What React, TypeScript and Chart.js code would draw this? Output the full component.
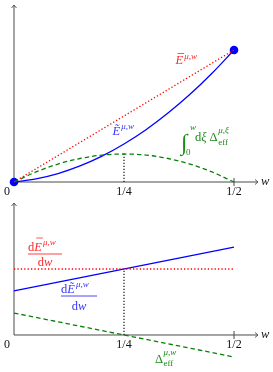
import { useEffect, useRef } from "react";
import { Chart, registerables } from "chart.js";

Chart.register(...registerables);

// ---- data ----
const wSamples = [0, 0.05, 0.1, 0.15, 0.2, 0.25, 0.3, 0.35, 0.4, 0.45, 0.5];
const eTildeValues = [0, 0.024, 0.064, 0.122, 0.196, 0.288, 0.396, 0.522, 0.664, 0.824, 1.0];
const intDeltaValues = [0, 0.076, 0.136, 0.178, 0.204, 0.212, 0.204, 0.178, 0.136, 0.076, 0];
const eBarW = [0, 0.5];
const eBarValues = [0, 1];
const endpointW = [0, 0.5];
const endpointValues = [0, 1];

const lineW = [0, 0.5];
const dEbarValues = [1, 1];
const dEtildeValues = [0.667, 1.333];
const deltaEffValues = [0.333, -0.333];

const tickValues = [0, 0.25, 0.5];
const tickLabels = ["0", "1/4", "1/2"];
const markW = 0.25;

// ---- styles ----
const FONT = '"Liberation Serif", "DejaVu Serif", serif';
const AXIS = "#4a4a4a";
const RED = "#ff0000";
const BLUE = "#0000ff";
const GREEN = "#0a800a";
const RED_T = "#ff2a2a";
const BLUE_T = "#3535ff";
const GREEN_T = "#1a8a1a";
const MAIN = 12.5;
const SCRIPT = 9;

function pts(xs: number[], ys: number[]) {
  return xs.map((x, i) => ({ x, y: ys[i] }));
}

function txt(ctx: CanvasRenderingContext2D, s: string, x: number, y: number, size: number, italic: boolean, align: CanvasTextAlign = "left") {
  ctx.font = `${italic ? "italic " : ""}${size}px ${FONT}`;
  ctx.textAlign = align;
  ctx.textBaseline = "alphabetic";
  ctx.fillText(s, x, y);
  return ctx.measureText(s).width;
}

function hline(ctx: CanvasRenderingContext2D, x0: number, x1: number, y: number, lw = 0.8) {
  ctx.save();
  ctx.lineWidth = lw;
  ctx.setLineDash([]);
  ctx.beginPath();
  ctx.moveTo(x0, y);
  ctx.lineTo(x1, y);
  ctx.stroke();
  ctx.restore();
}

function measure(ctx: CanvasRenderingContext2D, s: string, size: number, italic: boolean) {
  ctx.font = `${italic ? "italic " : ""}${size}px ${FONT}`;
  return ctx.measureText(s).width;
}

function drawAxes(chart: any, yZero: number, yTop: number, labelBase: number, wBase: number) {
  const ctx: CanvasRenderingContext2D = chart.ctx;
  const xs = chart.scales.x;
  const ys = chart.scales.y;
  const x0 = xs.getPixelForValue(0);
  const y0 = ys.getPixelForValue(yZero);
  const yT = ys.getPixelForValue(yTop);
  const xR = xs.right;
  ctx.save();
  ctx.strokeStyle = AXIS;
  ctx.lineWidth = 1;
  ctx.setLineDash([]);
  ctx.beginPath();
  ctx.moveTo(x0, y0);
  ctx.lineTo(x0, yT);
  ctx.moveTo(x0, y0);
  ctx.lineTo(xR, y0);
  ctx.stroke();
  // arrow heads
  ctx.lineWidth = 0.9;
  ctx.beginPath();
  ctx.moveTo(x0 - 2.5, yT + 3);
  ctx.lineTo(x0, yT);
  ctx.lineTo(x0 + 2.5, yT + 3);
  ctx.moveTo(xR - 3, y0 - 2.5);
  ctx.lineTo(xR, y0);
  ctx.lineTo(xR - 3, y0 + 2.5);
  ctx.stroke();
  // tick at last value
  const xh = xs.getPixelForValue(tickValues[2]);
  ctx.lineWidth = 1;
  ctx.beginPath();
  ctx.moveTo(xh, y0 - 4);
  ctx.lineTo(xh, y0 + 4);
  ctx.stroke();
  // tick labels
  ctx.fillStyle = "#111";
  tickValues.forEach((v, i) => {
    const px = xs.getPixelForValue(v) + (v === 0 ? -7 : 0);
    txt(ctx, tickLabels[i], px, y0 + labelBase, 12, false, "center");
  });
  txt(ctx, "w", xR + 3, y0 + wBase, 12.5, true, "left");
  ctx.restore();
}

function drawMarker(chart: any, yVal: number) {
  const ctx: CanvasRenderingContext2D = chart.ctx;
  const xs = chart.scales.x;
  const ys = chart.scales.y;
  const x = xs.getPixelForValue(markW);
  ctx.save();
  ctx.strokeStyle = "#000";
  ctx.lineWidth = 1.1;
  ctx.setLineDash([1.2, 1.8]);
  ctx.beginPath();
  ctx.moveTo(x, ys.getPixelForValue(0));
  ctx.lineTo(x, ys.getPixelForValue(yVal));
  ctx.stroke();
  ctx.restore();
}

const topPlugin = {
  id: "topDecor",
  beforeDatasetsDraw(chart: any) {
    drawAxes(chart, 0, chart.scales.y.max, 12.5, 3);
    drawMarker(chart, intDeltaValues[wSamples.indexOf(markW)]);
  },
  afterDraw(chart: any) {
    const ctx: CanvasRenderingContext2D = chart.ctx;
    ctx.save();
    // red E bar
    ctx.fillStyle = RED_T;
    ctx.strokeStyle = RED_T;
    let w = txt(ctx, "E", 175.5, 63.5, MAIN, true);
    hline(ctx, 177.5, 175.5 + w + 1, 53.5);
    txt(ctx, "μ,w", 175.5 + w + 1, 58.5, SCRIPT, true);
    // blue E tilde
    ctx.fillStyle = BLUE_T;
    w = txt(ctx, "Ẽ", 112.5, 134.5, MAIN, true);
    txt(ctx, "μ,w", 112.5 + w + 1, 129, SCRIPT, true);
    // green integral
    ctx.fillStyle = GREEN_T;
    txt(ctx, "∫", 181, 149.5, 23, false);
    txt(ctx, "w", 190, 130, SCRIPT, true);
    txt(ctx, "0", 186, 154.5, SCRIPT, false);
    w = txt(ctx, "d", 195, 140.5, MAIN, false);
    const wx = txt(ctx, "ξ", 195 + w, 140.5, MAIN, true);
    const dx = 195 + w + wx + 3;
    const wd = txt(ctx, "Δ", dx, 140.5, MAIN, false);
    txt(ctx, "μ,ξ", dx + wd + 0.5, 133, SCRIPT, true);
    txt(ctx, "eff", dx + wd + 0.5, 144.5, SCRIPT, false);
    ctx.restore();
  },
};

const bottomPlugin = {
  id: "bottomDecor",
  beforeDatasetsDraw(chart: any) {
    drawAxes(chart, 0, chart.scales.y.max, 13, 3);
    drawMarker(chart, dEbarValues[0]);
  },
  afterDraw(chart: any) {
    const ctx: CanvasRenderingContext2D = chart.ctx;
    ctx.save();
    // red fraction
    ctx.fillStyle = RED_T;
    ctx.strokeStyle = RED_T;
    let wd = txt(ctx, "d", 28, 54.5, MAIN, false);
    let we = txt(ctx, "E", 28 + wd, 54.5, MAIN, true);
    hline(ctx, 28 + wd + 2, 28 + wd + we + 1, 42);
    txt(ctx, "μ,w", 28 + wd + we + 1, 49, SCRIPT, true);
    hline(ctx, 28, 62, 58, 0.9);
    const dd = measure(ctx, "d", MAIN, false) + measure(ctx, "w", MAIN, true);
    wd = txt(ctx, "d", 45 - dd / 2, 69.5, MAIN, false);
    txt(ctx, "w", 45 - dd / 2 + wd, 69.5, MAIN, true);
    // blue fraction
    ctx.fillStyle = BLUE_T;
    ctx.strokeStyle = BLUE_T;
    wd = txt(ctx, "d", 61, 96.5, MAIN, false);
    we = txt(ctx, "Ẽ", 61 + wd, 96.5, MAIN, true);
    txt(ctx, "μ,w", 61 + wd + we + 1, 91, SCRIPT, true);
    hline(ctx, 61, 97, 100, 0.9);
    wd = txt(ctx, "d", 79 - dd / 2, 114, MAIN, false);
    txt(ctx, "w", 79 - dd / 2 + wd, 114, MAIN, true);
    // green delta
    ctx.fillStyle = GREEN_T;
    const wD = txt(ctx, "Δ", 155, 167, MAIN, false);
    txt(ctx, "μ,w", 155 + wD + 0.5, 159, SCRIPT, true);
    txt(ctx, "eff", 155 + wD + 0.5, 170, SCRIPT, false);
    ctx.restore();
  },
};

function baseOptions(yMin: number, yMax: number, pad: any) {
  return {
    responsive: false,
    animation: false as const,
    devicePixelRatio: 1,
    layout: { padding: pad },
    plugins: { legend: { display: false }, tooltip: { enabled: false } },
    events: [] as any[],
    scales: {
      x: { type: "linear" as const, min: 0, max: 0.5545, display: false },
      y: { type: "linear" as const, min: yMin, max: yMax, display: false },
    },
  };
}

export default function App() {
  const topRef = useRef<HTMLCanvasElement | null>(null);
  const botRef = useRef<HTMLCanvasElement | null>(null);

  useEffect(() => {
    const top = new Chart(topRef.current as HTMLCanvasElement, {
      type: "scatter",
      data: {
        datasets: [
          {
            data: pts(eBarW, eBarValues),
            showLine: true,
            borderColor: RED,
            borderWidth: 1.3,
            borderDash: [1.3, 2.1],
            pointRadius: 0,
            clip: false,
          },
          {
            data: pts(wSamples, intDeltaValues),
            showLine: true,
            borderColor: GREEN,
            borderWidth: 1.3,
            borderDash: [4.5, 3],
            pointRadius: 0,
            cubicInterpolationMode: "monotone",
            clip: false,
          },
          {
            data: pts(wSamples, eTildeValues),
            showLine: true,
            borderColor: BLUE,
            borderWidth: 1.3,
            pointRadius: 0,
            cubicInterpolationMode: "monotone",
            clip: false,
          },
          {
            data: pts(endpointW, endpointValues),
            showLine: false,
            pointRadius: 4.3,
            pointBackgroundColor: BLUE,
            pointBorderColor: BLUE,
            pointBorderWidth: 0,
            clip: false,
          },
        ],
      } as any,
      options: baseOptions(0, 1.3409, { left: 14, right: 15, top: 5, bottom: 14 }) as any,
      plugins: [topPlugin],
    });

    const bottom = new Chart(botRef.current as HTMLCanvasElement, {
      type: "scatter",
      data: {
        datasets: [
          {
            data: pts(lineW, dEbarValues),
            showLine: true,
            borderColor: RED,
            borderWidth: 1.3,
            borderDash: [1.3, 2.1],
            pointRadius: 0,
            clip: false,
          },
          {
            data: pts(lineW, deltaEffValues),
            showLine: true,
            borderColor: GREEN,
            borderWidth: 1.3,
            borderDash: [4.5, 3],
            pointRadius: 0,
            clip: false,
          },
          {
            data: pts(lineW, dEtildeValues),
            showLine: true,
            borderColor: BLUE,
            borderWidth: 1.3,
            pointRadius: 0,
            clip: false,
          },
        ],
      } as any,
      options: baseOptions(-0.3485, 2.0, { left: 14, right: 15, top: 7, bottom: 14 }) as any,
      plugins: [bottomPlugin],
    });

    return () => {
      top.destroy();
      bottom.destroy();
    };
  }, []);

  return (
    <div style={{ position: "absolute", left: 0, top: 0, width: 273, height: 372, background: "#fff" }}>
      <canvas ref={topRef} width={273} height={196} style={{ display: "block", width: 273, height: 196 }} />
      <canvas ref={botRef} width={273} height={176} style={{ display: "block", width: 273, height: 176 }} />
    </div>
  );
}
